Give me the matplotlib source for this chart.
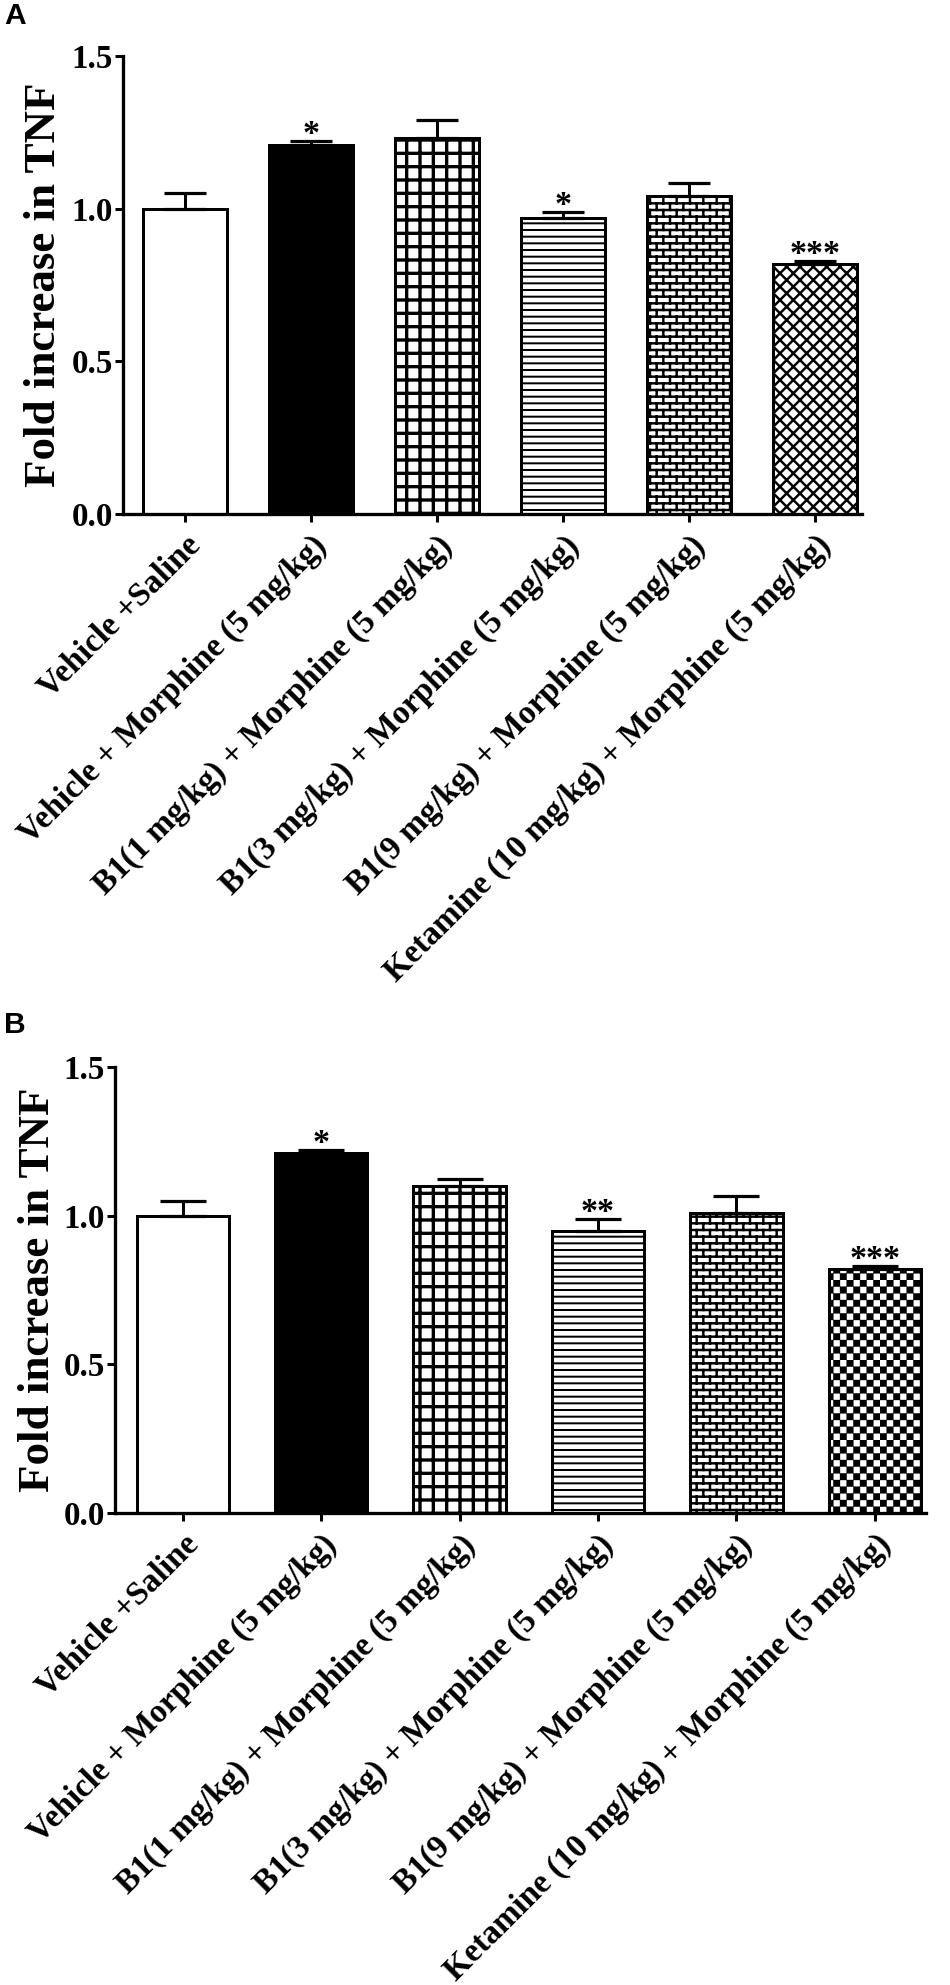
import warnings
warnings.filterwarnings('ignore')
import numpy as np
import matplotlib
matplotlib.use('Agg')
import matplotlib.pyplot as plt
from matplotlib import hatch as mhatch
from matplotlib.path import Path

# ---------------- data ----------------
categories = ["Vehicle +Saline",
              "Vehicle + Morphine (5 mg/kg)",
              "B1(1 mg/kg) + Morphine (5 mg/kg)",
              "B1(3 mg/kg) + Morphine (5 mg/kg)",
              "B1(9 mg/kg) + Morphine (5 mg/kg)",
              "Ketamine (10 mg/kg) + Morphine (5 mg/kg)"]
values_a = [1.00, 1.21, 1.23, 0.97, 1.04, 0.82]
errors_a = [0.05, 0.013, 0.06, 0.02, 0.045, 0.01]
stars_a = ["", "*", "", "*", "", "***"]
values_b = [1.00, 1.21, 1.10, 0.95, 1.01, 0.82]
errors_b = [0.05, 0.012, 0.022, 0.04, 0.055, 0.01]
stars_b = ["", "*", "", "**", "", "***"]
yticks = [0.0, 0.5, 1.0, 1.5]
ytick_labels = ["0.0", "0.5", "1.0", "1.5"]
panel_labels = ["A", "B"]
ylabel_text = "Fold increase in TNF"

# ---------------- custom hatches ----------------
DPI = 80
plt.rcParams['hatch.linewidth'] = 2.2
plt.rcParams['hatch.color'] = 'black'


class BrickHatch(mhatch.HatchPatternBase):
    def __init__(self, hatch, density):
        n = hatch.count('b')
        self.rows = int(n * density * 2)
        self.cols = int(n * density)
        if self.rows:
            nseg = self.rows + self.rows * self.cols + self.cols
            self.num_vertices = nseg * 2
        else:
            self.num_vertices = 0

    def set_vertices_and_codes(self, vertices, codes):
        rows, cols = self.rows, self.cols
        h = 1.0 / rows
        segs = []
        for r in range(rows):
            y = (r + 0.5) * h
            segs.append(((0.0, y), (1.0, y)))
        for r in range(rows):
            y0 = (r + 0.5) * h
            y1 = y0 + h
            off = 0.5 if r % 2 else 0.0
            for c in range(cols):
                x = (c + 0.25 + off) / cols
                if y1 <= 1.0:
                    segs.append(((x, y0), (x, y1)))
                else:
                    segs.append(((x, y0), (x, 1.0)))
                    segs.append(((x, 0.0), (x, y1 - 1.0)))
        k = 0
        for a, b in segs:
            vertices[k] = a
            vertices[k + 1] = b
            codes[k] = Path.MOVETO
            codes[k + 1] = Path.LINETO
            k += 2


class CheckerHatch(mhatch.HatchPatternBase):
    def __init__(self, hatch, density):
        n = hatch.count('c')
        self.n = int(n * density * 2)
        self.cells = [(i, j) for i in range(self.n) for j in range(self.n)
                      if (i + j) % 2 == 0]
        self.num_vertices = len(self.cells) * 5

    def set_vertices_and_codes(self, vertices, codes):
        s = 1.0 / self.n
        for k, (i, j) in enumerate(self.cells):
            x0, y0 = i * s, j * s
            x1, y1 = (i + 1) * s, (j + 1) * s
            vertices[5 * k:5 * k + 5] = [(x0, y0), (x1, y0), (x1, y1),
                                         (x0, y1), (x0, y0)]
            codes[5 * k:5 * k + 5] = [Path.MOVETO, Path.LINETO, Path.LINETO,
                                      Path.LINETO, Path.CLOSEPOLY]


mhatch._hatch_types.append(BrickHatch)
mhatch._hatch_types.append(CheckerHatch)

# ---------------- figure ----------------
W, H = 950, 1985
fig = plt.figure(figsize=(W / DPI, H / DPI), dpi=DPI)


def px(v):
    return v * 72.0 / DPI


SERIF = ['Liberation Serif', 'DejaVu Serif']
SANS = ['Liberation Sans', 'DejaVu Sans']

panels = [
    dict(rect=(123, 862, 56, 514), values=values_a, errors=errors_a, stars=stars_a,
         hatches=['', '', '+', '--', 'b', 'xx'], capsize=21, label_y=2, ylab_x=64),
    dict(rect=(115, 926, 1067, 1513), values=values_b, errors=errors_b, stars=stars_b,
         hatches=['', '', '+', '--', 'b', 'c'], capsize=23, label_y=1011, ylab_x=58),
]
facecolors = ['white', 'black', 'white', 'white', 'white', 'white']
hatch_lw = {'': 1.0, '+': 3.0, '--': 1.8, 'b': 2.2, 'xx': 2.2, 'c': 0.3}

for pi, p in enumerate(panels):
    x0, x1, yt, yb = p['rect']
    ax = fig.add_axes([x0 / W, 1 - yb / H, (x1 - x0) / W, (yb - yt) / H])
    x = np.arange(len(categories))
    for i in range(len(x)):
        h = p['hatches'][i]
        with plt.rc_context({'hatch.linewidth': hatch_lw[h]}):
            bars = ax.bar(x[i], p['values'][i], width=0.667, color=facecolors[i],
                          edgecolor='black', linewidth=px(3), zorder=2,
                          hatch=(h if h else None))
            for b in bars:
                if h and hasattr(b, 'set_hatch_linewidth'):
                    b.set_hatch_linewidth(hatch_lw[h])
    ax.errorbar(x, p['values'], yerr=[np.zeros(len(x)), p['errors']], fmt='none',
                ecolor='black', elinewidth=px(3), capsize=px(p['capsize']),
                capthick=px(3.2), zorder=3)
    for xi, v, e, s in zip(x, p['values'], p['errors'], p['stars']):
        if s:
            ax.annotate(s, (xi, v + e), xytext=(0, px(-2)), textcoords='offset points',
                        ha='center', va='baseline', fontsize=px(34),
                        family=SERIF, fontweight='bold')
    ax.set_xlim(-0.49, 5.37)
    ax.set_ylim(0, 1.5)
    ax.set_yticks(yticks)
    ax.set_yticklabels(ytick_labels, family=SERIF, fontweight='bold', fontsize=px(33))
    ax.set_xticks(x)
    ax.set_xticklabels(categories, rotation=45, ha='right', rotation_mode='anchor',
                       family=SERIF, fontweight='bold', fontsize=px(33))
    for side in ['top', 'right']:
        ax.spines[side].set_visible(False)
    for side in ['left', 'bottom']:
        ax.spines[side].set_linewidth(px(3.3))
    ax.tick_params(axis='both', direction='out', length=px(8), width=px(3),
                   color='black')
    ax.tick_params(axis='y', pad=px(2))
    ax.tick_params(axis='x', pad=px(8))
    ax.set_ylabel(ylabel_text, family=SERIF, fontweight='bold', fontsize=px(45))
    ax.yaxis.set_label_coords((p['ylab_x'] - x0) / (x1 - x0), 0.5)
    fig.text(4 / W, 1 - p['label_y'] / H, panel_labels[pi], ha='left', va='top',
             family=SANS, fontweight='bold', fontsize=px(30))

fig.savefig('out.png', dpi=DPI, facecolor='white')
